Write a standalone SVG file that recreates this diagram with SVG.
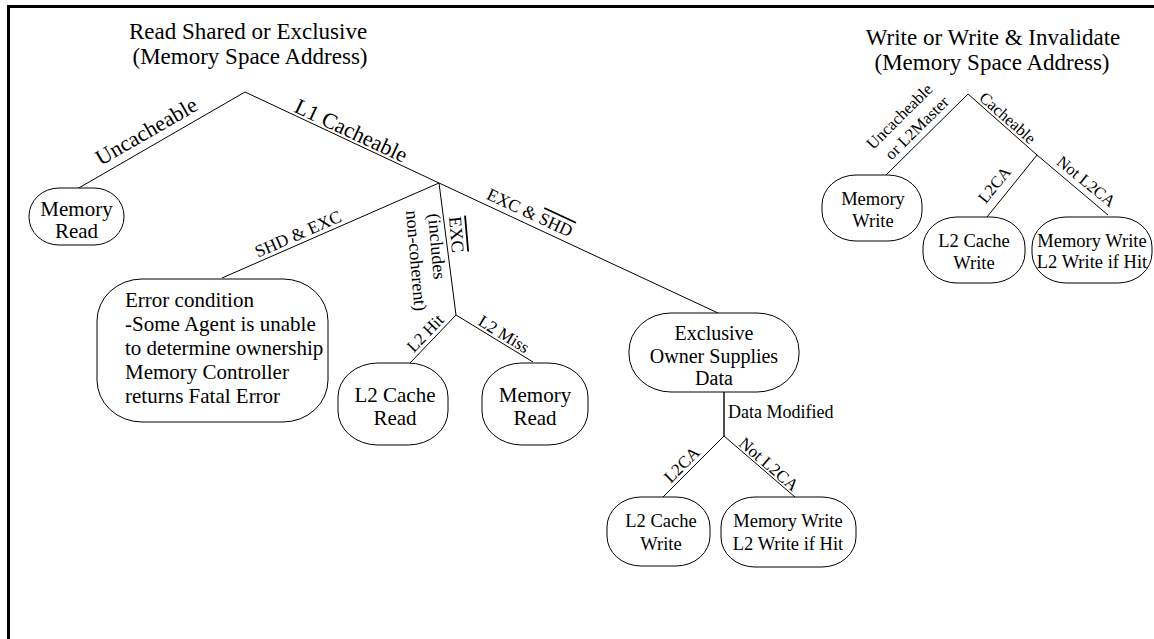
<svg xmlns="http://www.w3.org/2000/svg" width="1154" height="639" viewBox="0 0 1154 639">
<style>
.t{font-family:"Liberation Serif","Times New Roman",serif;fill:#000}
.ti{font-size:23px;text-anchor:middle}
.el{font-size:17px;text-anchor:middle}
.big{font-size:22px;text-anchor:middle}
.n{fill:#fff;stroke:#000;stroke-width:1}
.l{font-size:21px;text-anchor:middle}
.s{font-size:18.5px;text-anchor:middle}
.c line{stroke:#000;stroke-width:1;fill:none}
.ov{text-decoration:overline}
</style>
<rect x="0" y="0" width="1154" height="639" fill="#fff"/>
<g id="frame" stroke="#000" stroke-width="3">
<line x1="8.5" y1="6.5" x2="1154" y2="6.5"/>
<line x1="8.5" y1="5" x2="8.5" y2="639"/>
</g>
<g id="titles" class="t">
<text class="ti" x="248" y="39">Read Shared or Exclusive</text>
<text class="ti" x="250" y="64">(Memory Space Address)</text>
<text class="ti" x="993" y="45">Write or Write &amp; Invalidate</text>
<text class="ti" x="992" y="70">(Memory Space Address)</text>
</g>
<g id="connectors" class="c">
<line x1="245" y1="92" x2="77" y2="189"/>
<line x1="245" y1="92" x2="439" y2="183"/>
<line x1="439" y1="183" x2="718" y2="313"/>
<line x1="439" y1="183" x2="222" y2="278"/>
<line x1="439" y1="183" x2="456" y2="315"/>
<line x1="456" y1="315" x2="410" y2="363"/>
<line x1="456" y1="315" x2="533" y2="362"/>
<line x1="724" y1="392" x2="724" y2="436" style="stroke-width:1.4"/>
<line x1="724" y1="436" x2="663" y2="497"/>
<line x1="724" y1="436" x2="795" y2="497"/>
<line x1="968" y1="94" x2="886" y2="175"/>
<line x1="968" y1="94" x2="1037" y2="155"/>
<line x1="1037" y1="155" x2="1108" y2="215"/>
<line x1="1037" y1="155" x2="987" y2="217"/>
</g>
<g id="edge-labels" class="t">
<text class="big" transform="translate(150,137.6) rotate(-30)">Uncacheable</text>
<text class="big" transform="translate(348,137.3) rotate(25)">L1 Cacheable</text>
<text class="el" style="font-size:17.5px" transform="translate(300.4,239.3) rotate(-23.6)">SHD &amp; EXC</text>
<text class="el" style="font-size:17.5px" transform="translate(527.3,217.9) rotate(25)">EXC &amp; <tspan class="ov">SHD</tspan></text>
<g style="font-size:18px">
<text transform="translate(449,217) rotate(85)"><tspan class="ov">EXC</tspan></text>
<text transform="translate(428,214) rotate(85)">(includes</text>
<text transform="translate(406,211) rotate(85)">non-coherent)</text>
</g>
<text class="el" transform="translate(429.3,337.1) rotate(-46)">L2 Hit</text>
<text class="el" transform="translate(501,339) rotate(31.4)">L2 Miss</text>
<text class="t" style="font-size:18px" x="728" y="418">Data Modified</text>
<text class="el" transform="translate(685.7,468.7) rotate(-45)">L2CA</text>
<text class="el" transform="translate(765.1,468.5) rotate(40.7)">Not L2CA</text>
<text class="el" style="font-size:16.5px" transform="translate(903.2,120.3) rotate(-44.7)">Uncacheable</text>
<text class="el" style="font-size:16.5px" transform="translate(920.7,131.8) rotate(-44.7)">or L2Master</text>
<text class="el" style="font-size:16.5px" transform="translate(1004,122) rotate(41.5)">Cacheable</text>
<text class="el" style="font-size:16.5px" transform="translate(998.7,188.3) rotate(-51.1)">L2CA</text>
<text class="el" style="font-size:16.5px" transform="translate(1082.7,185.7) rotate(39.2)">Not L2CA</text>
</g>
<g id="node-memory-read-1" class="t">
<rect class="n" x="29" y="188" width="95" height="57" rx="30" ry="28"/>
<text class="l" x="76.5" y="216">Memory</text>
<text class="l" x="76.5" y="238">Read</text>
</g>
<g id="node-error" class="t">
<rect class="n" x="97" y="279" width="231" height="143" rx="45" ry="42"/>
<text style="font-size:21px" x="125" y="307">Error condition</text>
<text style="font-size:21px" x="125" y="331">-Some Agent is unable</text>
<text style="font-size:21px" x="125" y="355">to determine ownership</text>
<text style="font-size:21px" x="125" y="379">Memory Controller</text>
<text style="font-size:21px" x="125" y="403">returns Fatal Error</text>
</g>
<g id="node-l2-cache-read" class="t">
<rect class="n" x="338" y="363" width="110" height="82" rx="40" ry="34"/>
<text class="l" x="395" y="402">L2 Cache</text>
<text class="l" x="395" y="425">Read</text>
</g>
<g id="node-memory-read-2" class="t">
<rect class="n" x="482" y="363" width="106" height="82" rx="40" ry="34"/>
<text class="l" x="535" y="402">Memory</text>
<text class="l" x="535" y="425">Read</text>
</g>
<g id="node-exclusive" class="t">
<rect class="n" x="629" y="313" width="170" height="79" rx="42" ry="38"/>
<text class="l" style="font-size:20px" x="714" y="340">Exclusive</text>
<text class="l" style="font-size:20px" x="714" y="362.5">Owner Supplies</text>
<text class="l" style="font-size:20px" x="714" y="385">Data</text>
</g>
<g id="node-l2-cache-write-b" class="t">
<rect class="n" x="607" y="497" width="103" height="69" rx="34" ry="30"/>
<text class="s" x="661" y="527">L2 Cache</text>
<text class="s" x="661" y="550">Write</text>
</g>
<g id="node-memory-write-b" class="t">
<rect class="n" x="721" y="497" width="135" height="70" rx="34" ry="30"/>
<text class="s" x="788" y="527">Memory Write</text>
<text class="s" x="788" y="550">L2 Write if Hit</text>
</g>
<g id="node-memory-write-r" class="t">
<rect class="n" x="822" y="175" width="100" height="66" rx="34" ry="30"/>
<text class="s" x="873" y="205">Memory</text>
<text class="s" x="873" y="227">Write</text>
</g>
<g id="node-l2-cache-write-r" class="t">
<rect class="n" x="923" y="217" width="102" height="66" rx="34" ry="30"/>
<text class="s" x="974" y="247">L2 Cache</text>
<text class="s" x="974" y="269">Write</text>
</g>
<g id="node-memory-write-l2-r" class="t">
<rect class="n" x="1032" y="217" width="120" height="66" rx="34" ry="30"/>
<text class="s" x="1092" y="247">Memory Write</text>
<text class="s" x="1092" y="268">L2 Write if Hit</text>
</g>
</svg>
